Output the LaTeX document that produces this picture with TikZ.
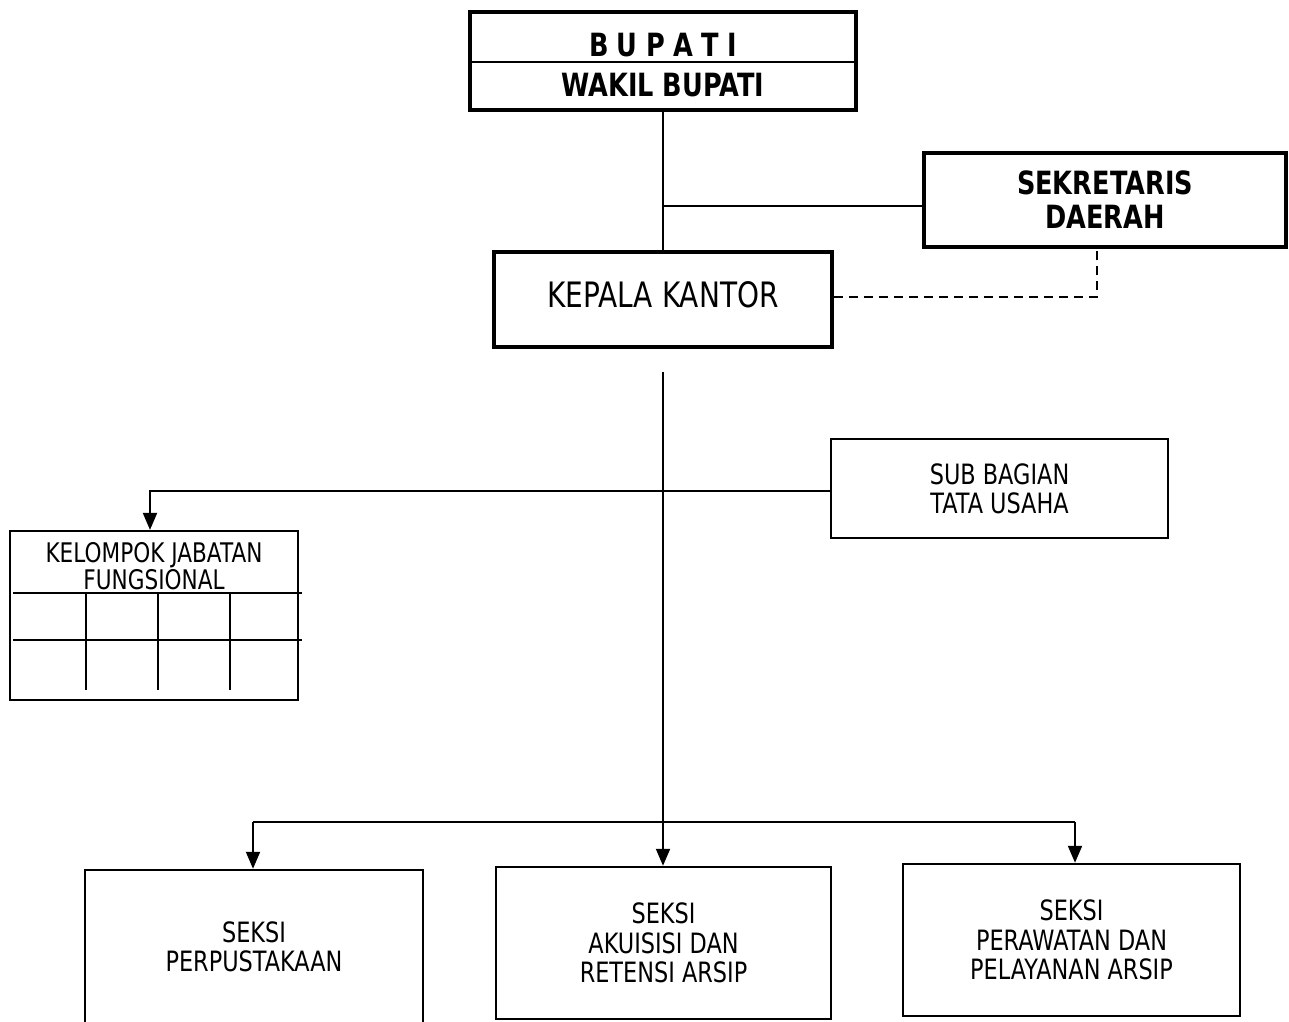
\documentclass[tikz,border=0pt]{standalone}
\usepackage{fontspec}
\setmainfont{DejaVu Sans}[FakeStretch=0.8]
\usetikzlibrary{arrows.meta}
\tikzset{
  heavybox/.style={draw, line width=3.5pt, inner sep=0pt, align=center},
  lightbox/.style={draw, line width=2.2pt, inner sep=0pt, align=center},
  link/.style={line width=2pt},
  arrowlink/.style={link, -{Triangle[length=17pt,width=14pt]}},
  boldtxt/.style={font=\bfseries\fontsize{32}{34}\selectfont, align=center, inner sep=0pt},
  plaintxt/.style={font=\fontsize{28}{29.5}\selectfont, align=center},
}
\begin{document}
\begin{tikzpicture}[x=1pt,y=-1pt]
\useasboundingbox (0,0) rectangle (1289,1021);

% head of the region
\node[heavybox, minimum width=386pt, minimum height=98pt] (head) at (663,61) {};
\draw[line width=2pt] (head.west |- 0,62) -- (head.east |- 0,62);
\node[boldtxt] (bupati) at (663,45) {B\hspace{8.4pt}U\hspace{8.4pt}P\hspace{8.4pt}A\hspace{8.4pt}T\hspace{8.4pt}I};
\node[boldtxt] (wakil) at (663,85) {WAKIL BUPATI};

% secretary
\node[heavybox, boldtxt, minimum width=362pt, minimum height=94pt] (sek) at (1105,200) {SEKRETARIS\\DAERAH};

% head of office
\node[heavybox, minimum width=338pt, minimum height=95pt,
      font=\fontsize{35}{38}\selectfont] (kepala) at (663,299.5) {\raisebox{10pt}{KEPALA KANTOR}};

% administration sub-division
\node[lightbox, plaintxt, minimum width=337pt, minimum height=99pt, text depth=0pt] (sub) at (999.5,488.5) {SUB BAGIAN\\TATA USAHA};

% functional group with its grid
\node[lightbox, minimum width=288pt, minimum height=169pt] (kel) at (154,615.5) {};
\node[font=\fontsize{27}{25}\selectfont, align=center, inner sep=0pt] (keltxt) at (154,566) {KELOMPOK JABATAN\\FUNGSIONAL};
\draw[link] (13,593) -- (302,593);
\draw[link] (13,640) -- (302,640);
\foreach \gx in {86,158,230} \draw[link] (\gx,593) -- (\gx,690);

% sections
\node[lightbox, plaintxt, line width=2.5pt, minimum width=338pt, minimum height=154pt] (perp) at (254,947) {SEKSI\\PERPUSTAKAAN};
\node[lightbox, plaintxt, line width=2.5pt, minimum width=335pt, minimum height=152pt] (akui) at (663.5,943) {SEKSI\\AKUISISI DAN\\RETENSI ARSIP};
\node[lightbox, plaintxt, line width=2.5pt, minimum width=337pt, minimum height=152pt] (rawat) at (1071.5,940) {SEKSI\\PERAWATAN DAN\\PELAYANAN ARSIP};

% connectors
\coordinate (j1) at (663,206);
\coordinate (dk) at (1097,297);
\coordinate (v0) at (663,372);
\coordinate (k1) at (150,491);
\coordinate (b1) at (253,822);
\coordinate (b2) at (1075,822);

\draw[link] (head.south) -- (kepala.north);
\draw[link] (j1) -- (j1 -| sek.west);
\draw[link, dash pattern=on 9pt off 6pt] (kepala.east |- dk) -- (dk) -- (dk |- sek.south);
\draw[arrowlink] (v0) -- (v0 |- akui.north);
\draw[arrowlink] (sub.west |- k1) -- (k1) -- (k1 |- kel.north);
\draw[link] (b1) -- (b2);
\draw[arrowlink] (b1) -- (b1 |- perp.north);
\draw[arrowlink] (b2) -- (b2 |- rawat.north);
\end{tikzpicture}
\end{document}
